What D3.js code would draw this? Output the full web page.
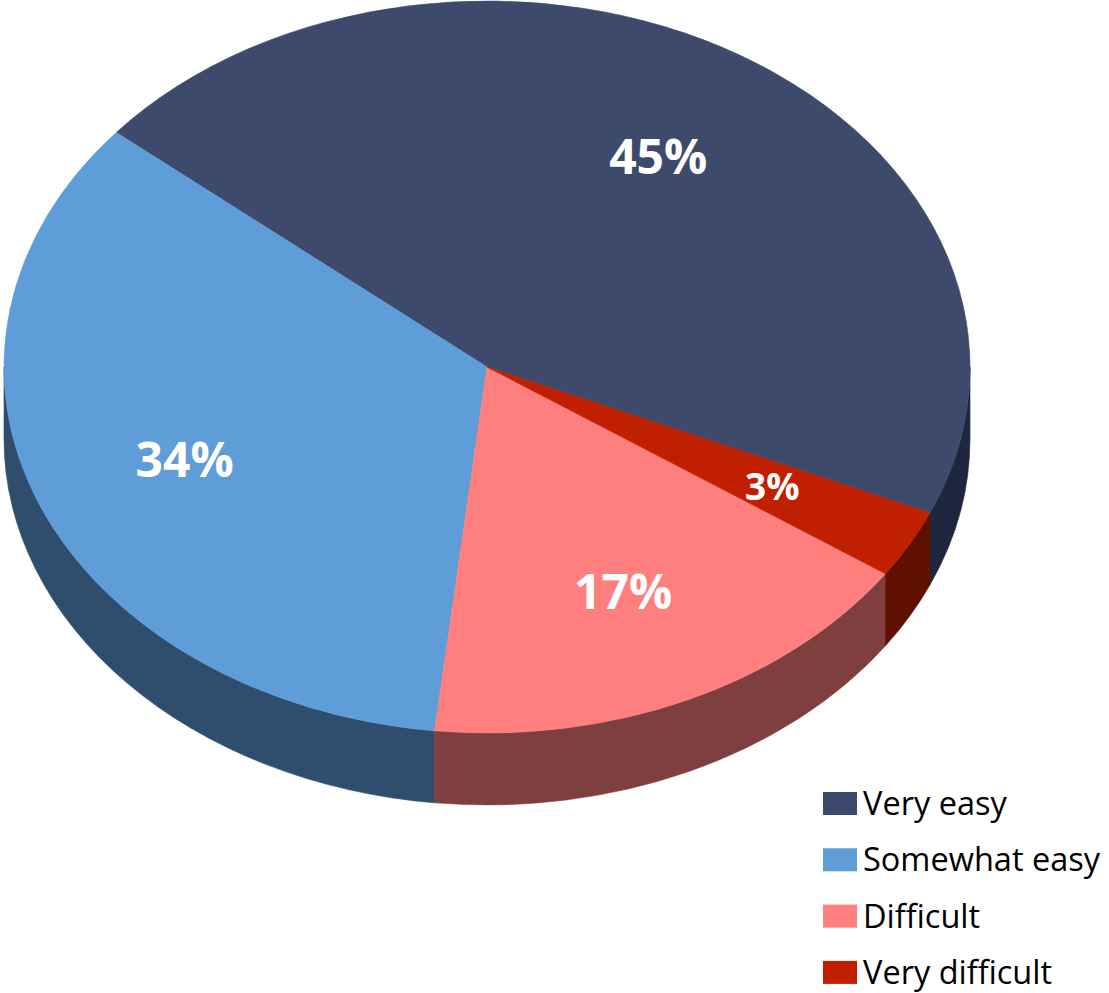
<!DOCTYPE html>
<html>
<head>
<meta charset="utf-8">
<script src="https://cdn.jsdelivr.net/npm/d3@7"></script>
<style>
  html, body { margin: 0; padding: 0; background: #ffffff; }
  svg { display: block; }
</style>
</head>
<body>
<svg id="chart" width="1109" height="993"></svg>
<script>
// Survey answers: how easy was it?
const categories = ["Very easy", "Somewhat easy", "Difficult", "Very difficult"];
const shares = [45, 34, 17, 3];
const shareLabels = ["45%", "34%", "17%", "3%"];

// Face colours (top) and darker wall colours (side) per category
const topColors = ["#3d4a6b", "#5f9dd9", "#ff7f7f", "#c01f00"];
const sideColors = ["#1f2740", "#2f4e6e", "#7f3f3f", "#5f1000"];

// Tilted-disc geometry
const cx = 487, cy = 367, rx = 483, ry = 366, depth = 72;
const startDeg = 113.5;           // where the first slice begins (clockwise from 12 o'clock)
const labelRadius = 0.675;        // fraction of the radius used for the value labels

const svg = d3.select("#chart");
const rad = Math.PI / 180;

const rows = categories.map((c, i) => ({ name: c, value: shares[i], label: shareLabels[i], i }));

// Slices run counter-clockwise from the start angle
const pie = d3.pie()
  .sort(null)
  .value(d => d.value)
  .startAngle(startDeg * rad)
  .endAngle(startDeg * rad - 2 * Math.PI);
const arcs = pie(rows);

// Project an angle (0 = top, clockwise) onto the ellipse, optionally shifted down
const pt = (a, dz = 0, f = 1) => [cx + f * rx * Math.sin(a), cy - f * ry * Math.cos(a) + dz];

// Outer wall between two angles lying on the front half of the disc
function wallPath(s, e) {
  const p0 = pt(s), p1 = pt(e), p2 = pt(e, depth), p3 = pt(s, depth);
  return `M${p0}A${rx},${ry} 0 0 1 ${p1}L${p2}A${rx},${ry} 0 0 0 ${p3}Z`;
}

function slicePath(d) {
  const lo = Math.min(d.startAngle, d.endAngle), hi = Math.max(d.startAngle, d.endAngle);
  const large = (hi - lo) > Math.PI ? 1 : 0;
  const p0 = pt(lo), p1 = pt(hi);
  return `M${cx},${cy}L${p0}A${rx},${ry} 0 ${large} 1 ${p1}Z`;
}

// Visible (front-facing) parts of each slice's outer wall
const walls = [];
arcs.forEach(d => {
  const lo = Math.min(d.startAngle, d.endAngle), hi = Math.max(d.startAngle, d.endAngle);
  for (let k = -2; k <= 2; k++) {
    const fl = Math.PI / 2 + 2 * Math.PI * k, fh = 3 * Math.PI / 2 + 2 * Math.PI * k;
    const s = Math.max(lo, fl), e = Math.min(hi, fh);
    if (e > s) walls.push({ d, s, e });
  }
});

svg.append("g").attr("class", "walls")
  .selectAll("path")
  .data(walls)
  .join("path")
  .attr("d", w => wallPath(w.s, w.e))
  .attr("fill", w => sideColors[w.d.data.i])
  .attr("stroke", w => sideColors[w.d.data.i])
  .attr("stroke-width", 0.6);

svg.append("g").attr("class", "tops")
  .selectAll("path")
  .data(arcs)
  .join("path")
  .attr("d", slicePath)
  .attr("fill", d => topColors[d.data.i])
  .attr("stroke", d => topColors[d.data.i])
  .attr("stroke-width", 0.6);

// Value labels (the thin slice gets a smaller label)
const sweep = d => Math.abs(d.endAngle - d.startAngle);
svg.append("g").attr("class", "labels")
  .selectAll("text")
  .data(arcs)
  .join("text")
  .attr("transform", d => {
    const mid = (d.startAngle + d.endAngle) / 2;
    const [x, y] = pt(mid, 0, labelRadius);
    return `translate(${x},${y})`;
  })
  .attr("text-anchor", "middle")
  .attr("dy", "0.36em")
  .attr("font-family", "'Open Sans', 'Noto Sans', sans-serif")
  .attr("font-weight", 700)
  .attr("font-size", d => sweep(d) < 0.3 ? 37 : 48)
  .attr("fill", "#ffffff")
  .text(d => d.data.label);

// Legend
const legendX = 823, legendTop = 792, legendStep = 56.3;
const legend = svg.append("g").attr("class", "legend")
  .selectAll("g")
  .data(rows)
  .join("g")
  .attr("transform", (d, i) => `translate(${legendX},${legendTop + i * legendStep})`);

legend.append("rect")
  .attr("width", 34)
  .attr("height", 23)
  .attr("fill", d => topColors[d.i]);

legend.append("text")
  .attr("x", 40)
  .attr("y", 23)
  .attr("font-family", "'Open Sans', 'Noto Sans', sans-serif")
  .attr("font-size", 32.5)
  .attr("fill", "#000000")
  .text(d => d.name);
</script>
</body>
</html>
